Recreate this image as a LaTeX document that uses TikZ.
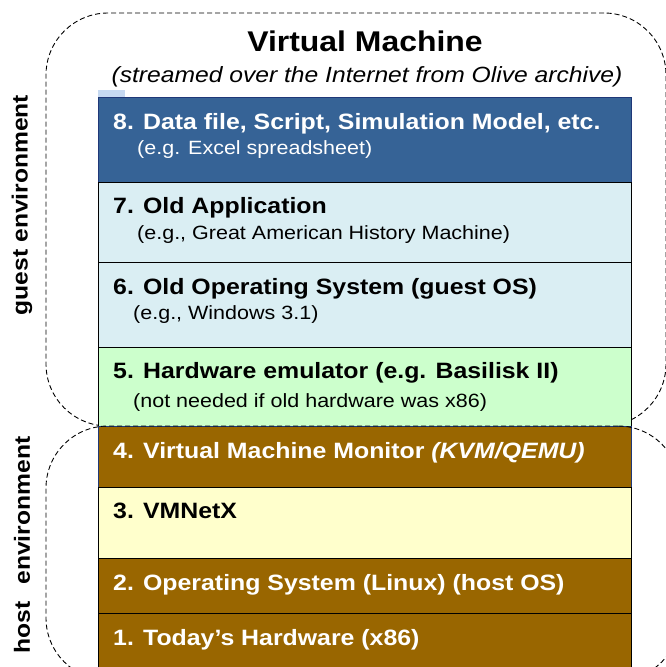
\documentclass[tikz,border=0pt]{standalone}
\usepackage{fontspec}
\setmainfont{Liberation Sans}[FakeStretch=1.12]
\definecolor{blueD}{RGB}{54,99,150}
\definecolor{navy}{RGB}{31,56,120}
\definecolor{lblue}{RGB}{218,238,243}
\definecolor{lgreen}{RGB}{204,255,204}
\definecolor{brownB}{RGB}{153,102,0}
\definecolor{lyellow}{RGB}{255,255,204}
\definecolor{tabblue}{RGB}{198,217,241}
\begin{document}
\begin{tikzpicture}[x=1pt,y=-1pt,
  layer/.style={draw=black, line width=0.8pt, minimum width=533pt, anchor=north west, inner sep=0pt, outer sep=0pt},
  ttl/.style={anchor=base west, inner sep=0pt, font=\fontsize{22.2}{26}\selectfont\bfseries},
  subl/.style={anchor=base west, inner sep=0pt, font=\fontsize{19.2}{22}\selectfont},
  envbox/.style={draw=black, dash pattern=on 5pt off 3pt, line width=0.9pt, rounded corners=62pt, anchor=north west, inner sep=0pt, outer sep=0pt},
  side/.style={rotate=90, font=\fontsize{22}{26}\selectfont\bfseries, inner sep=0pt}]
\useasboundingbox (0,0) rectangle (665,667);
% guest environment frame (behind the stack)
\node[envbox, minimum width=620pt, minimum height=413pt] (guest) at (46,13) {};
% tab above layer 8
\node[fill=tabblue, minimum width=27pt, minimum height=7pt, anchor=north west, inner sep=0pt] (tab) at (98,90) {};
% layers
\node[layer, fill=blueD, draw=navy, minimum height=85pt] (b8) at (98,97) {};
\node[layer, fill=lblue, minimum height=80pt] (b7) at (98,182) {};
\node[layer, fill=lblue, minimum height=85pt] (b6) at (98,262) {};
\node[layer, fill=lgreen, minimum height=79pt] (b5) at (98,347) {};
\node[layer, fill=brownB, draw=navy, minimum height=61pt] (b4) at (98,426) {};
\node[layer, fill=lyellow, minimum height=71pt] (b3) at (98,487) {};
\node[layer, fill=brownB, minimum height=55pt] (b2) at (98,558) {};
\node[layer, fill=brownB, minimum height=70pt] (b1) at (98,613) {};
% host environment frame (over the stack)
\node[envbox, minimum width=634pt, minimum height=254pt] (host) at (46,426) {};
% titles
\node[font=\fontsize{28.5}{32}\selectfont\bfseries, anchor=base, inner sep=0pt] (title) at (365,51) {Virtual Machine};
\node[font=\fontsize{22}{26}\selectfont\itshape, anchor=base, inner sep=0pt] (subtitle) at (367,82) {(streamed over the Internet from Olive archive)};
% layer texts
\node[ttl, text=white] (t8) at (113,129) {8. Data file, Script, Simulation Model, etc.};
\node[subl, text=white] (s8) at (137,154) {(e.g. Excel spreadsheet)};
\node[ttl] (t7) at (113,213) {7. Old Application};
\node[subl] (s7) at (137,239) {(e.g., Great American History Machine)};
\node[ttl] (t6) at (113,294) {6. Old Operating System (guest OS)};
\node[subl] (s6) at (133,319) {(e.g., Windows 3.1)};
\node[ttl] (t5) at (113,378) {5. Hardware emulator (e.g. Basilisk II)};
\node[subl] (s5) at (133,407) {(not needed if old hardware was x86)};
\node[ttl, text=white] (t4) at (113,458) {4. Virtual Machine Monitor \textit{(KVM/QEMU)}};
\node[ttl] (t3) at (113,518) {3. VMNetX};
\node[ttl, text=white] (t2) at (113,590) {2. Operating System (Linux) (host OS)};
\node[ttl, text=white] (t1) at (113,645) {1. Today’s Hardware (x86)};
% side labels
\node[side] (guestlbl) at (22,205) {guest environment};
\node[side] (hostlbl) at (22,545) {host\hspace{10pt} environment};
\end{tikzpicture}
\end{document}
